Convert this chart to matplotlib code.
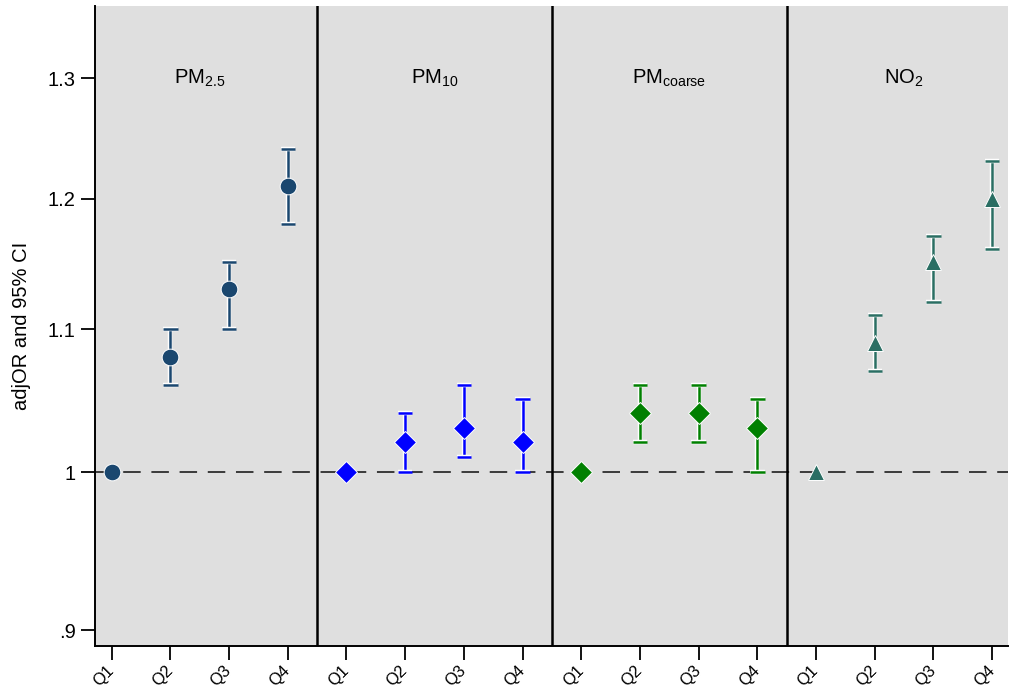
import matplotlib
matplotlib.use("Agg")
import matplotlib.pyplot as plt
import matplotlib.patheffects as pe
from matplotlib.ticker import FixedLocator, FixedFormatter, NullLocator

plt.rcParams['font.family'] = ['Liberation Sans', 'DejaVu Sans']
plt.rcParams['mathtext.fontset'] = 'custom'
plt.rcParams['mathtext.rm'] = 'Liberation Sans'
plt.rcParams['mathtext.it'] = 'Liberation Sans'

# ---- data ----
quartiles = ["Q1", "Q2", "Q3", "Q4"]
pollutants = [r"PM$_\mathrm{2.5}$", r"PM$_\mathrm{10}$", r"PM$_\mathrm{coarse}$", r"NO$_\mathrm{2}$"]

pm25_or = [1.00, 1.08, 1.13, 1.21]
pm25_lo = [1.00, 1.06, 1.10, 1.18]
pm25_hi = [1.00, 1.10, 1.15, 1.24]

pm10_or = [1.00, 1.02, 1.03, 1.02]
pm10_lo = [1.00, 1.00, 1.01, 1.00]
pm10_hi = [1.00, 1.04, 1.06, 1.05]

coarse_or = [1.00, 1.04, 1.04, 1.03]
coarse_lo = [1.00, 1.02, 1.02, 1.00]
coarse_hi = [1.00, 1.06, 1.06, 1.05]

no2_or = [1.00, 1.09, 1.15, 1.20]
no2_lo = [1.00, 1.07, 1.12, 1.16]
no2_hi = [1.00, 1.11, 1.17, 1.23]

yticks = [0.9, 1.0, 1.1, 1.2, 1.3]
ytick_labels = [".9", "1", "1.1", "1.2", "1.3"]

series = [
    (pm25_or, pm25_lo, pm25_hi, "#1a476f", "o", 12.0),
    (pm10_or, pm10_lo, pm10_hi, "#0000ff", "D", 11.5),
    (coarse_or, coarse_lo, coarse_hi, "#008000", "D", 11.5),
    (no2_or, no2_lo, no2_hi, "#2a6e63", "^", 11.5),
]

fig = plt.figure(figsize=(10.14, 6.89), dpi=100)
ax = fig.add_axes([95/1014, 1 - 646/689, (1008 - 95)/1014, (646 - 6)/689])
ax.set_facecolor("#dfdfdf")
ax.set_yscale("log")
ax.set_ylim(0.8905, 1.3643)
ax.set_xlim(0.716, 16.27)

ax.axhline(1.0, color="#3a3a3a", lw=1.4, dashes=(9, 5.5), zorder=1)
for b in [4.5, 8.5, 12.5]:
    ax.axvline(b, color="black", lw=1.8, zorder=2)

outline = [pe.Stroke(linewidth=3.2, foreground="white"), pe.Normal()]
xpos_all = []
for k, (orv, lo, hi, col, mk, ms) in enumerate(series):
    xs = [k * 4 + i + 1 for i in range(4)]
    xpos_all += xs
    for x, o, l, h in zip(xs, orv, lo, hi):
        if h > l:
            eb = ax.errorbar([x], [o], yerr=[[o - l], [h - o]], fmt="none",
                             ecolor=col, elinewidth=1.8, capsize=5.2, capthick=1.8, zorder=3)
            for art in eb.lines[1] + eb.lines[2]:
                art.set_path_effects(outline)
    ax.plot(xs, orv, linestyle="none", marker=mk, ms=ms, color=col,
            mec="white", mew=0.7, zorder=4)
    ax.text(k * 4 + 2.5, 1.3, pollutants[k], ha="center", va="center", fontsize=14.5)

ax.yaxis.set_major_locator(FixedLocator(yticks))
ax.yaxis.set_major_formatter(FixedFormatter(ytick_labels))
ax.yaxis.set_minor_locator(NullLocator())
ax.set_xticks(xpos_all)
ax.set_xticklabels(quartiles * 4, rotation=45, ha="right", va="center",
                   rotation_mode="anchor", fontsize=12)
ax.tick_params(axis="y", length=10, width=1.3, labelsize=14.5, pad=4)
ax.tick_params(axis="x", length=10, width=1.3, pad=6)
for s in ["top", "right"]:
    ax.spines[s].set_visible(False)
for s in ["left", "bottom"]:
    ax.spines[s].set_linewidth(1.4)
ax.set_ylabel("adjOR and 95% CI", fontsize=14.5, labelpad=12)

fig.savefig("out.png", dpi=100)
